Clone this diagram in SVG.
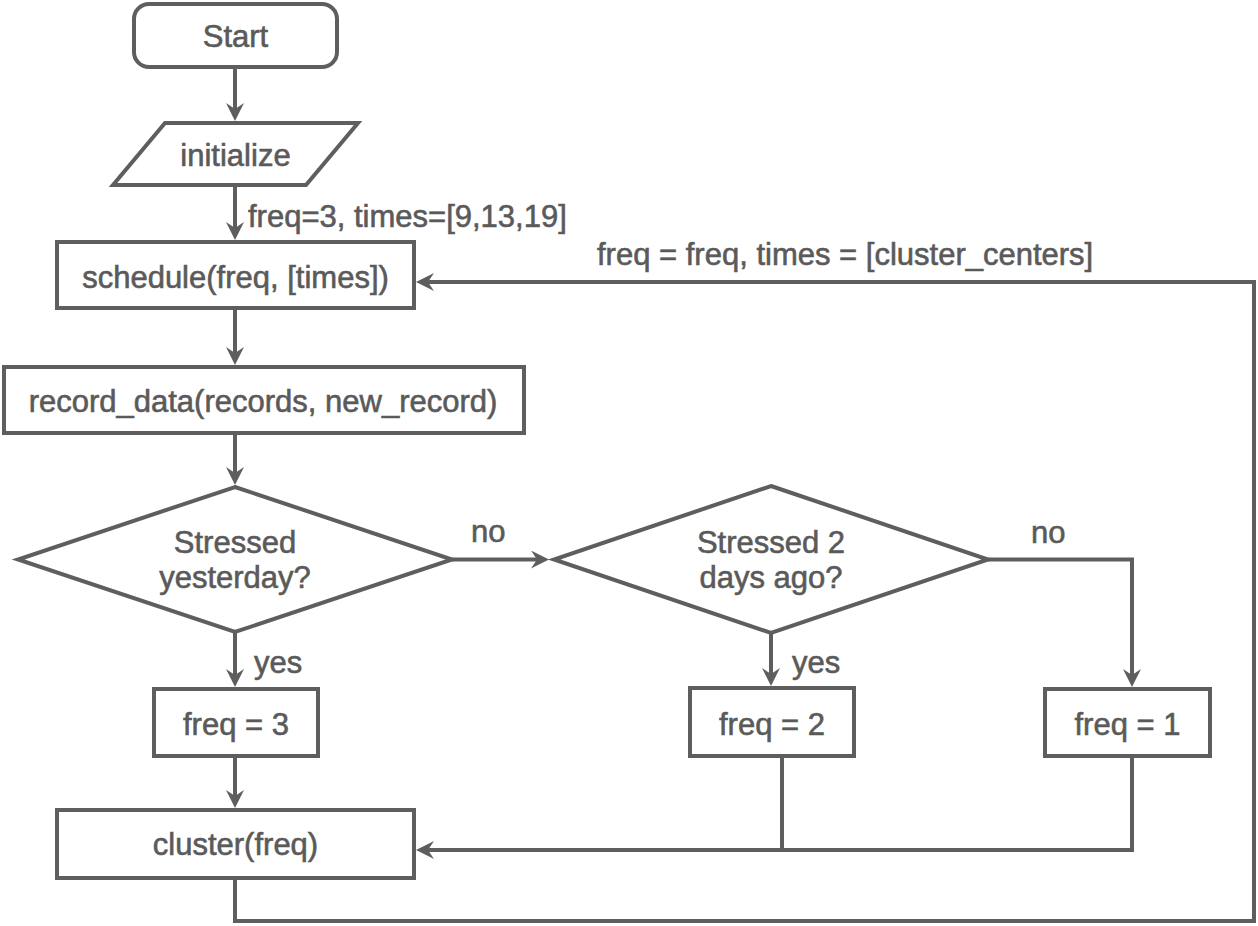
<svg xmlns="http://www.w3.org/2000/svg" width="1258" height="926" viewBox="0 0 1258 926">
<style>
.shape{fill:#ffffff;stroke:#5e5e5e;stroke-width:4;stroke-linejoin:miter}
.edge{fill:none;stroke:#5e5e5e;stroke-width:4}
text{font-family:"Liberation Sans",Arial,Helvetica,sans-serif;font-size:31px;fill:#5a5a5a;stroke:#5a5a5a;stroke-width:0.6}
.c{text-anchor:middle}
</style>
<defs>
<marker id="arr" markerUnits="userSpaceOnUse" viewBox="0 0 18 18" markerWidth="18" markerHeight="18" refX="6" refY="9" orient="auto">
<path d="M0,0 L18,9 L0,18 L6,9 Z" fill="#5e5e5e"/>
</marker>
</defs>
<rect width="1258" height="926" fill="#ffffff"/>
<g id="connectors">
<path class="edge" d="M235,67 V109" marker-end="url(#arr)"/>
<path class="edge" d="M235,185 V228" marker-end="url(#arr)"/>
<path class="edge" d="M235,308 V353" marker-end="url(#arr)"/>
<path class="edge" d="M235,433 V473" marker-end="url(#arr)"/>
<path class="edge" d="M452,559.5 H537" marker-end="url(#arr)"/>
<path class="edge" d="M235,632 V675" marker-end="url(#arr)"/>
<path class="edge" d="M771,633 V674" marker-end="url(#arr)"/>
<path class="edge" d="M988,559.5 H1132 V675" marker-end="url(#arr)"/>
<path class="edge" d="M235,756 V796" marker-end="url(#arr)"/>
<path class="edge" d="M782,756 V850 H428" marker-end="url(#arr)"/>
<path class="edge" d="M1132,756 V850 H782"/>
<path class="edge" d="M235,878 V921 H1254 V282 H428" marker-end="url(#arr)"/>
<text x="248" y="227">freq=3, times=[9,13,19]</text>
<text x="597" y="265">freq = freq, times = [cluster_centers]</text>
<text x="471" y="542">no</text>
<text x="1031" y="543">no</text>
<text x="254" y="673">yes</text>
<text x="792" y="673">yes</text>
</g>
<g id="start">
<rect class="shape" x="134" y="4" width="203" height="63" rx="15"/>
<text class="c" x="235.5" y="47">Start</text>
</g>
<g id="initialize">
<polygon class="shape" points="165,123 358,123 306,185 113,185"/>
<text class="c" x="235.5" y="166">initialize</text>
</g>
<g id="schedule">
<rect class="shape" x="57" y="242" width="357" height="66"/>
<text class="c" x="235.5" y="288">schedule(freq, [times])</text>
</g>
<g id="record_data">
<rect class="shape" x="4" y="367" width="520" height="66"/>
<text class="c" x="263" y="412">record_data(records, new_record)</text>
</g>
<g id="stressed_yesterday">
<polygon class="shape" points="235,487 452,559.5 235,632 18,559.5"/>
<text class="c" x="235" y="553">Stressed</text>
<text class="c" x="235" y="588">yesterday?</text>
</g>
<g id="stressed_2_days">
<polygon class="shape" points="771,486 988,559.5 771,633 554,559.5"/>
<text class="c" x="771" y="553">Stressed 2</text>
<text class="c" x="771" y="588">days ago?</text>
</g>
<g id="freq3">
<rect class="shape" x="154" y="689" width="164" height="67"/>
<text class="c" x="236" y="735">freq = 3</text>
</g>
<g id="freq2">
<rect class="shape" x="690" y="688" width="164" height="68"/>
<text class="c" x="772" y="735">freq = 2</text>
</g>
<g id="freq1">
<rect class="shape" x="1045" y="689" width="165" height="67"/>
<text class="c" x="1127.5" y="735">freq = 1</text>
</g>
<g id="cluster">
<rect class="shape" x="57" y="810" width="357" height="68"/>
<text class="c" x="235.5" y="855">cluster(freq)</text>
</g>
</svg>
